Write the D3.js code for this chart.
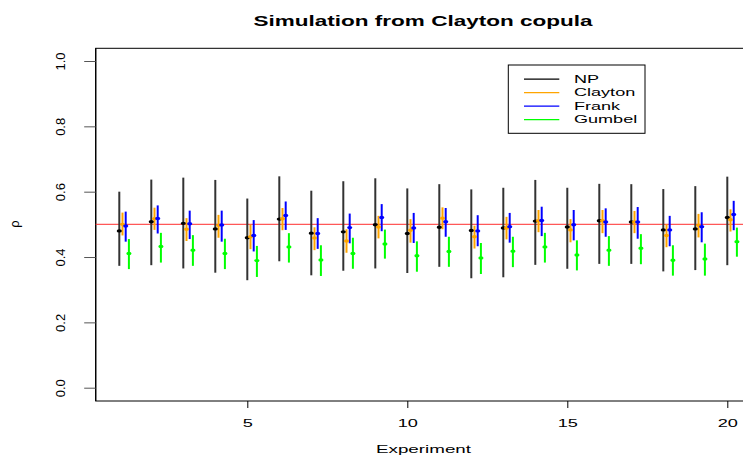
<!DOCTYPE html>
<html><head><meta charset="utf-8">
<script src="https://cdn.jsdelivr.net/npm/d3@7"></script>
<style>body{margin:0;background:#fff}svg{display:block}text{font-family:"Liberation Sans",Arial,sans-serif}</style>
</head><body><svg id="c" width="743" height="456"></svg>
<script>
const experiments = [1,2,3,4,5,6,7,8,9,10,11,12,13,14,15,16,17,18,19,20];
const seriesNames = ["NP","Clayton","Frank","Gumbel"];
const seriesColors = ["#000000","#FFA500","#0000FF","#00FF00"];
const barColors = ["#333333","#FFA500","#0000FF","#00FF00"];
const seriesOffsets = [0,0.1,0.2,0.3];

const npEst = [0.480,0.508,0.503,0.486,0.459,0.516,0.473,0.477,0.499,0.472,0.491,0.481,0.489,0.510,0.492,0.511,0.507,0.483,0.486,0.521];
const npLo  = [0.373,0.375,0.365,0.352,0.329,0.387,0.344,0.358,0.365,0.351,0.370,0.335,0.338,0.376,0.364,0.379,0.379,0.356,0.360,0.375];
const npHi  = [0.600,0.637,0.643,0.636,0.579,0.647,0.603,0.632,0.641,0.610,0.623,0.607,0.612,0.636,0.612,0.624,0.623,0.608,0.617,0.646];

const claytonEst = [0.500,0.517,0.485,0.497,0.462,0.517,0.458,0.449,0.492,0.482,0.519,0.462,0.489,0.511,0.483,0.511,0.507,0.466,0.497,0.514];
const claytonLo  = [0.466,0.483,0.449,0.459,0.424,0.482,0.421,0.413,0.457,0.444,0.485,0.426,0.454,0.476,0.445,0.473,0.473,0.430,0.460,0.478];
const claytonHi  = [0.536,0.551,0.519,0.529,0.499,0.550,0.491,0.485,0.526,0.516,0.552,0.496,0.523,0.544,0.516,0.544,0.541,0.500,0.532,0.546];

const frankEst = [0.495,0.518,0.502,0.498,0.466,0.527,0.472,0.490,0.521,0.489,0.508,0.480,0.493,0.512,0.499,0.507,0.507,0.483,0.493,0.530];
const frankLo  = [0.447,0.472,0.455,0.447,0.417,0.483,0.425,0.442,0.479,0.443,0.462,0.433,0.444,0.464,0.451,0.462,0.456,0.433,0.445,0.482];
const frankHi  = [0.539,0.558,0.542,0.542,0.513,0.570,0.519,0.533,0.562,0.535,0.550,0.528,0.535,0.554,0.544,0.549,0.553,0.526,0.537,0.572];

const gumbelEst = [0.411,0.432,0.421,0.411,0.389,0.431,0.391,0.411,0.440,0.404,0.417,0.397,0.418,0.431,0.406,0.421,0.427,0.390,0.394,0.447];
const gumbelLo  = [0.363,0.383,0.373,0.363,0.339,0.383,0.342,0.364,0.395,0.355,0.370,0.348,0.369,0.383,0.359,0.373,0.378,0.343,0.343,0.401];
const gumbelHi  = [0.455,0.474,0.467,0.456,0.434,0.473,0.436,0.459,0.484,0.448,0.462,0.443,0.462,0.474,0.451,0.464,0.470,0.436,0.441,0.490];

const xTicks = [5,10,15,20];
const yTicks = [0.0,0.2,0.4,0.6,0.8,1.0];
const yTickLabels = ["0.0","0.2","0.4","0.6","0.8","1.0"];
const refValue = 0.5;
const title = "Simulation from Clayton copula";
const xLabel = "Experiment";
const yLabel = "ρ";

const est = [npEst, claytonEst, frankEst, gumbelEst];
const lo = [npLo, claytonLo, frankLo, gumbelLo];
const hi = [npHi, claytonHi, frankHi, gumbelHi];

const svg = d3.select("#c");
const x = d3.scaleLinear().domain([1,20]).range([119.3,727.3]);
const y = d3.scaleLinear().domain([0,1]).range([387.7,61]);
const plotL = 95.7, plotT = 48.3, plotB = 401, plotR = 760;

// box
svg.append("rect").attr("x",plotL).attr("y",plotT).attr("width",plotR-plotL).attr("height",plotB-plotT)
  .attr("fill","none").attr("stroke","#000").attr("stroke-width",1);
svg.append("line").attr("x1",plotL).attr("x2",plotL).attr("y1",plotT).attr("y2",plotB).attr("stroke","#000").attr("stroke-width",1.3);

// y axis
const ya = svg.append("g").attr("transform",`translate(${plotL},0)`)
  .call(d3.axisLeft(y).tickValues(yTicks).tickSize(11.5).tickFormat((d,i)=>yTickLabels[i]));
ya.select(".domain").remove();
ya.selectAll(".tick line").attr("stroke","#555");
ya.selectAll(".tick text").attr("x",null).attr("dy",null).attr("text-anchor","middle")
  .attr("font-size",13).attr("fill","#000")
  .attr("transform","translate(-30.5,0) rotate(-90)");

// x axis
const xa = svg.append("g").attr("transform",`translate(0,${plotB})`)
  .call(d3.axisBottom(x).tickValues(xTicks).tickSize(7));
xa.select(".domain").remove();
xa.selectAll(".tick line").attr("stroke","#000");
xa.selectAll(".tick text").attr("y",null).attr("dy",null).attr("text-anchor","middle")
  .attr("font-size",10.8).attr("fill","#000")
  .attr("transform","translate(0,25.5) scale(1.68,1)");

// reference line
svg.append("line").attr("x1",plotL).attr("x2",plotR).attr("y1",y(refValue)).attr("y2",y(refValue))
  .attr("stroke","#ff3b3b").attr("stroke-width",1.4).attr("opacity",0.85);

// error bars and points
seriesNames.forEach((name,s)=>{
  const g = svg.append("g");
  g.selectAll("line").data(experiments).join("line")
    .attr("x1",(d,i)=>x(d+seriesOffsets[s])).attr("x2",(d,i)=>x(d+seriesOffsets[s]))
    .attr("y1",(d,i)=>y(lo[s][i])).attr("y2",(d,i)=>y(hi[s][i]))
    .attr("stroke",barColors[s]).attr("stroke-width",2);
});
seriesNames.forEach((name,s)=>{
  const g = svg.append("g");
  g.selectAll("ellipse").data(experiments).join("ellipse")
    .attr("cx",(d,i)=>x(d+seriesOffsets[s])).attr("cy",(d,i)=>y(est[s][i]))
    .attr("rx",2.6).attr("ry",1.7).attr("fill",seriesColors[s]);
});

// legend
const lg = svg.append("g");
lg.append("rect").attr("x",508.3).attr("y",65).attr("width",136.7).attr("height",68.3)
  .attr("fill","#fff").attr("stroke","#000").attr("stroke-width",1);
seriesNames.forEach((name,s)=>{
  const by = 83 + s*13.45;
  lg.append("line").attr("x1",524).attr("x2",559.3).attr("y1",by-3.8).attr("y2",by-3.8)
    .attr("stroke",seriesColors[s]).attr("stroke-width",1.2);
  lg.append("text").attr("transform",`translate(574,${by}) scale(1.72,1)`)
    .attr("font-size",10.5).text(name);
});

// titles
svg.append("text").attr("transform","translate(423,25.7) scale(1.61,1)").attr("text-anchor","middle")
  .attr("font-size",14).attr("font-weight","bold").text(title);
svg.append("text").attr("transform","translate(423.5,453.3) scale(1.62,1)").attr("text-anchor","middle")
  .attr("font-size",11.6).text(xLabel);
svg.append("text").attr("transform","translate(19,224) rotate(-90)").attr("text-anchor","middle")
  .attr("font-size",13).text(yLabel);
</script></body></html>
